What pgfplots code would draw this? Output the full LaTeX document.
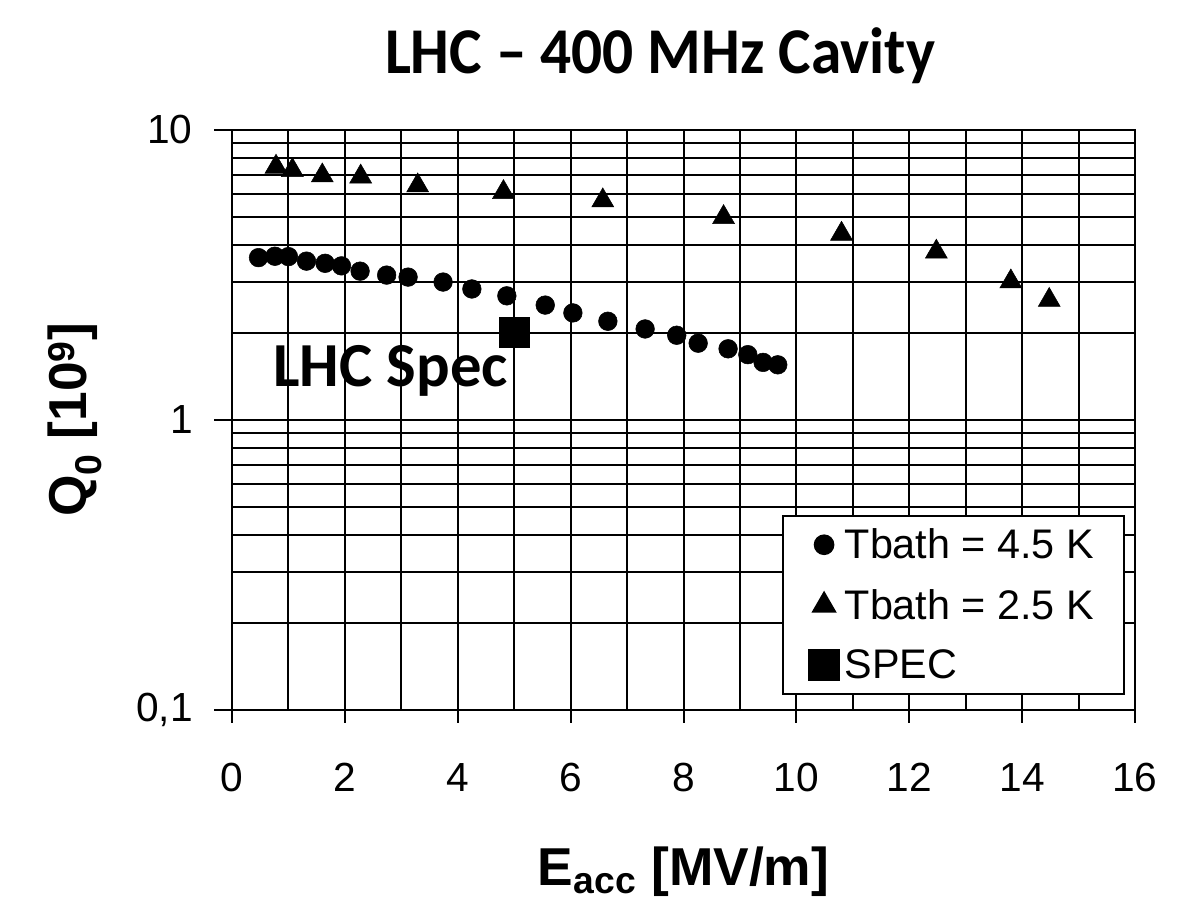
\documentclass[border=0pt]{standalone}
\usepackage{pgfplots}
\pgfplotsset{compat=1.18}
\usepackage{fontspec}
\setmainfont{Liberation Sans}
\newfontfamily\calibri{Carlito}

\pgfplotstableread{
x y
0.47 3.63
0.76 3.67
1.00 3.66
1.32 3.53
1.65 3.47
1.94 3.40
2.27 3.26
2.74 3.16
3.12 3.11
3.74 2.99
4.25 2.83
4.87 2.68
5.55 2.49
6.04 2.34
6.66 2.19
7.32 2.06
7.88 1.96
8.26 1.84
8.79 1.76
9.14 1.68
9.41 1.58
9.67 1.55
}\tablefour

\pgfplotstableread{
x y
0.78 7.46
1.07 7.26
1.60 6.96
2.28 6.90
3.29 6.43
4.81 6.10
6.57 5.71
8.71 5.00
10.80 4.38
12.48 3.80
13.80 3.00
14.48 2.59
}\tabletwo

\pgfplotstableread{
x y
5.0 2.0
}\tablespec

\pgfplotsset{legend image code/.code={\path[draw=none] (-12pt,-12pt) rectangle (12pt,12pt); \draw[#1] plot coordinates {(0pt,0pt)};}}

\begin{document}
\begin{tikzpicture}
\path[use as bounding box] (0,0) rectangle (903pt,676.5pt);
\begin{axis}[
  at={(174pt,144pt)}, anchor=south west,
  scale only axis, width=677.25pt, height=435pt,
  xmin=0, xmax=16, ymode=log, ymin=0.1, ymax=10,
  clip=false,
  xtick={0,2,...,16}, minor x tick num=1,
  ytick={0.1,1,10}, yticklabels={{0,1},1,10},
  grid=both,
  major grid style={black, line width=1.5pt},
  minor grid style={black, line width=1.5pt},
  axis line style={black, line width=1.5pt},
  tick style={black, line width=1.5pt},
  xtick pos=bottom, ytick pos=left,
  /pgf/number format/assume math mode=true,
  ticklabel style={font=\fontsize{30.5}{30.5}\selectfont},
  xticklabel style={anchor=base, yshift=-61pt},
  yticklabel style={xshift=-26pt},
  title={\calibri\bfseries LHC – 400 MHz Cavity},
  title style={at={(axis description cs:0.474,1.083)}, anchor=base, yshift=0pt, xscale=0.94, font=\fontsize{49}{49}\selectfont},
  xlabel={\textbf{E\textsubscript{acc} [MV/m]}},
  xlabel style={at={(axis description cs:0.5,-0.302)}, anchor=base, font=\fontsize{40}{40}\selectfont},
  ylabel={\textbf{Q\textsubscript{0} [10\textsuperscript{9}]}},
  ylabel style={at={(axis description cs:-0.174,0.5)}, anchor=center, rotate=0, font=\fontsize{40}{40}\selectfont},
  legend style={at={(0.989,0.336)}, anchor=north east, draw=black, line width=1.5pt,
    font=\fontsize{31}{31}\selectfont, row sep=14.5pt, inner xsep=19pt, inner ysep=6pt,
    nodes={inner sep=3.5pt}},
  legend cell align=left,
]
\addplot[only marks, mark=*, mark size=7pt, black]
  table[x=x,y=y] {\tablefour};
\addlegendentry{Tbath = 4.5 K}
\addplot[only marks, mark=triangle*, mark size=9.5pt, black]
  table[x=x,y=y] {\tabletwo};
\addlegendentry{Tbath = 2.5 K}
\addplot[only marks, mark=square*, mark size=11.25pt, black]
  table[x=x,y=y] {\tablespec};
\addlegendentry{SPEC}
\pgfplotsinvokeforeach{0,2,...,16}{\draw[black, line width=1.5pt] (axis cs:#1,0.1) -- ++(0pt,-10pt);}
\pgfplotsinvokeforeach{0.1,1,10}{\draw[black, line width=1.5pt] (axis cs:0,#1) -- ++(-13.5pt,0pt);}
\node[anchor=base west, font=\calibri\bfseries\fontsize{47}{47}\selectfont, inner sep=0pt] at (axis cs:0.73,1.30) {LHC Spec};
\end{axis}
\end{tikzpicture}
\end{document}
